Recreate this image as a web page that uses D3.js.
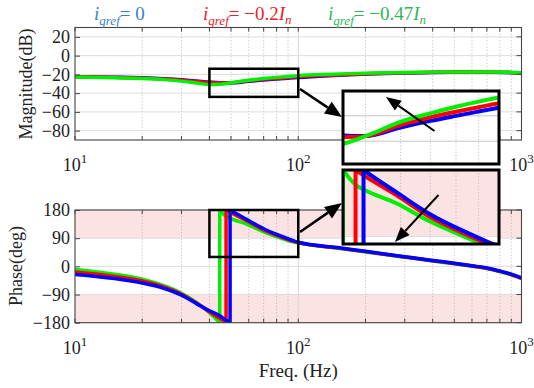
<!DOCTYPE html>
<html>
<head>
<meta charset="utf-8">
<script src="https://cdn.jsdelivr.net/npm/d3@7"></script>
<style>
  body { margin: 0; background: #fff; }
  svg { display: block; }
  svg text { font-family: "Liberation Serif", "Tinos", "Times New Roman", "DejaVu Serif", serif; }
</style>
</head>
<body>
<svg id="chart" width="534" height="388"></svg>
<script>
// ---------------- data ----------------
const seriesNames = ["i_qref = 0", "i_qref = -0.2In", "i_qref = -0.47In"];
const curveColors = ["#0000ff", "#ff0000", "#00ee00"];
const legendColors = ["#3b7fc8", "#e5242c", "#2fb55a"];
const serif = "Liberation Serif, Tinos, Times New Roman, DejaVu Serif, serif";

// magnitude (dB)
const magFreq  = [10, 15, 20, 25, 30, 35, 40, 44.5, 50, 60, 70, 80, 90, 100, 130, 170, 220, 300, 400, 550, 750, 1000];
const magBlue  = [-22.5, -23.0, -23.7, -24.6, -25.7, -27.0, -28.2, -28.9, -29.0, -27.3, -26.0, -25.0, -24.15, -23.4, -21.7, -20.4, -19.4, -18.5, -17.9, -17.6, -17.7, -18.4];
const magRed   = [-22.6, -23.2, -24.0, -25.0, -26.3, -27.7, -28.9, -29.2, -29.0, -26.8, -25.3, -24.2, -23.3, -22.5, -21.1, -20.0, -19.1, -18.3, -17.8, -17.5, -17.6, -18.3];
const magGreen = [-22.8, -23.5, -24.4, -25.6, -27.2, -29.2, -30.9, -30.5, -29.0, -26.2, -24.5, -23.2, -22.2, -21.4, -20.1, -19.2, -18.6, -18.0, -17.6, -17.4, -17.5, -18.2];

// phase (deg): branch before the wrap (ends at -180) and after it (starts at +180)
const phBlueLoF  = [10, 15, 20, 25, 30, 35, 40, 44.5, 47.5, 49.5];
const phBlueLoV  = [-26, -39, -53, -70, -92, -119, -142, -158, -172, -180];
const phRedLoF   = [10, 15, 20, 25, 30, 35, 40, 44.5, 47.5];
const phRedLoV   = [-18, -32, -47, -66, -89, -117, -145, -166, -180];
const phGreenLoF = [10, 15, 20, 25, 30, 35, 40, 42, 44.5];
const phGreenLoV = [-10, -25, -41, -62, -86, -115, -148, -162, -180];

const phBlueHiF  = [49.5, 52, 58.7, 69.6, 82.8, 92.6, 100, 150, 200, 300, 400, 500, 600, 700, 800, 900, 1000];
const phBlueHiV  = [180, 171, 150, 121, 98, 85, 77, 60, 48, 31, 19, 10, 2, -5, -15, -25, -37];
const phRedHiF   = [47.5, 52, 58.7, 69.6, 82.8, 92, 100, 150, 200, 300, 400, 500, 600, 700, 800, 900, 1000];
const phRedHiV   = [180, 165, 146, 117, 95, 83, 76, 59, 47, 30, 18, 9, 1, -6, -16, -26, -38];
const phGreenHiF = [44.5, 47.5, 49.4, 58.7, 69.6, 82.8, 88.5, 100, 150, 200, 300, 400, 500, 600, 700, 800, 900, 1000];
const phGreenHiV = [180, 160, 154, 135, 111, 91, 84, 75, 58, 46, 29, 17, 8, 0, -7, -17, -27, -39];

// axis ticks
const magTicks = [20, 0, -20, -40, -60, -80];
const phTicks = [180, 90, 0, -90, -180];
const decadeTicks = [10, 100, 1000];
const insetGridF = [50, 60, 70, 80, 90];

// ---------------- helpers ----------------
const zip = (f, v) => f.map((x, i) => [x, v[i]]);
const svg = d3.select("#chart");
const defs = svg.append("defs");

const L = 75, R = 521.5;
const magTop = 27.5, magBot = 140;
const phTop = 210, phBot = 322.7;
const tickFont = 18, titleFont = 18;

const x = d3.scaleLog().domain([10, 1000]).range([L, R]);
const yMag = d3.scaleLinear().domain([-90, 30]).range([magBot, magTop]);
const yPh = d3.scaleLinear().domain([-180, 180]).range([phBot, phTop]);

const minorF = [];
[10, 100].forEach(d => { for (let k = 2; k <= 9; k++) minorF.push(d * k); });

function clip(id, x0, y0, w, h) {
  defs.append("clipPath").attr("id", id)
    .append("rect").attr("x", x0).attr("y", y0).attr("width", w).attr("height", h);
  return `url(#${id})`;
}

function panel(y, ticks, top, bot, bands) {
  const g = svg.append("g");
  bands.forEach(b => {
    g.append("rect").attr("x", L).attr("width", R - L)
      .attr("y", y(b[1])).attr("height", y(b[0]) - y(b[1]))
      .attr("fill", "#fce3e3");
  });
  g.selectAll(".vmin").data(minorF).join("line")
    .attr("x1", d => x(d)).attr("x2", d => x(d)).attr("y1", top).attr("y2", bot)
    .attr("stroke", "#b4b4b4").attr("stroke-width", 0.8).attr("stroke-dasharray", "1.2,2");
  g.selectAll(".vmaj").data([100]).join("line")
    .attr("x1", d => x(d)).attr("x2", d => x(d)).attr("y1", top).attr("y2", bot)
    .attr("stroke", "#d6d6d6").attr("stroke-width", 1);
  g.selectAll(".hg").data(ticks).join("line")
    .attr("x1", L).attr("x2", R).attr("y1", d => y(d)).attr("y2", d => y(d))
    .attr("stroke", "#dcdcdc").attr("stroke-width", 1);
  return g;
}

function frame(y, ticks, top, bot) {
  const g = svg.append("g");
  const ax = g.append("g").attr("transform", `translate(${L},0)`)
    .call(d3.axisLeft(y).tickValues(ticks).tickSizeInner(-5).tickSizeOuter(0).tickPadding(5));
  ax.attr("font-family", serif).attr("font-size", tickFont);
  ax.select(".domain").remove();
  ax.selectAll("line").attr("stroke", "#444");
  ax.selectAll("text").attr("font-size", tickFont).attr("fill", "#222").attr("font-family", serif);
  g.selectAll(".rt").data(ticks).join("line")
    .attr("x1", R).attr("x2", R - 5).attr("y1", d => y(d)).attr("y2", d => y(d))
    .attr("stroke", "#444");
  const allX = minorF.concat(decadeTicks);
  g.selectAll(".bt").data(allX).join("line")
    .attr("x1", d => x(d)).attr("x2", d => x(d)).attr("y1", bot).attr("y2", bot - 4)
    .attr("stroke", "#444");
  g.selectAll(".tt").data(allX).join("line")
    .attr("x1", d => x(d)).attr("x2", d => x(d)).attr("y1", top).attr("y2", top + 4)
    .attr("stroke", "#444");
  g.append("rect").attr("x", L).attr("y", top).attr("width", R - L).attr("height", bot - top)
    .attr("fill", "none").attr("stroke", "#444").attr("stroke-width", 1.1);
  const lab = g.selectAll(".xl").data(decadeTicks).join("text")
    .attr("x", d => x(d)).attr("y", bot + 31).attr("text-anchor", "middle")
    .attr("font-family", serif).attr("font-size", tickFont).attr("fill", "#222");
  lab.append("tspan").text("10");
  lab.append("tspan").attr("dy", -8).attr("font-size", 13).text(d => Math.round(Math.log10(d)));
}

const lineGen = (xs, ys) => d3.line().x(d => xs(d[0])).y(d => ys(d[1])).curve(d3.curveMonotoneX);

function wrappedPath(xs, ys, lo, hi) {
  const gen = lineGen(xs, ys);
  return gen(lo) + gen(hi).replace(/^M/, "L");
}

// ---------------- magnitude panel ----------------
panel(yMag, magTicks, magTop, magBot, []);
const magClip = clip("cMag", L, magTop, R - L, magBot - magTop);
const magSeries = [magBlue, magRed, magGreen];
const gMag = svg.append("g").attr("clip-path", magClip);
magSeries.forEach((v, i) => {
  gMag.append("path").attr("d", lineGen(x, yMag)(zip(magFreq, v)))
    .attr("fill", "none").attr("stroke", curveColors[i]).attr("stroke-width", 3.5)
    .attr("stroke-linejoin", "round");
});
frame(yMag, magTicks, magTop, magBot);

// ---------------- phase panel ----------------
panel(yPh, phTicks, phTop, phBot, [[90, 180], [-180, -90]]);
const phClip = clip("cPh", L, phTop, R - L, phBot - phTop);
const phLo = [zip(phBlueLoF, phBlueLoV), zip(phRedLoF, phRedLoV), zip(phGreenLoF, phGreenLoV)];
const phHi = [zip(phBlueHiF, phBlueHiV), zip(phRedHiF, phRedHiV), zip(phGreenHiF, phGreenHiV)];
const gPh = svg.append("g").attr("clip-path", phClip);
[2, 1, 0].forEach(i => {
  gPh.append("path").attr("d", wrappedPath(x, yPh, phLo[i], phHi[i]))
    .attr("fill", "none").attr("stroke", curveColors[i]).attr("stroke-width", 3.5)
    .attr("stroke-linejoin", "miter");
});
frame(yPh, phTicks, phTop, phBot);

// ---------------- zoom boxes ----------------
const boxMag = { f: [40, 100], v: [-14, -44] };
const boxPh = { f: [40, 100], v: [30, 180] };
[[boxMag, yMag], [boxPh, yPh]].forEach(([b, y]) => {
  svg.append("rect")
    .attr("x", x(b.f[0])).attr("y", y(d3.max(b.v)))
    .attr("width", x(b.f[1]) - x(b.f[0])).attr("height", y(d3.min(b.v)) - y(d3.max(b.v)))
    .attr("fill", "none").attr("stroke", "#000").attr("stroke-width", 2.5);
});

// ---------------- insets ----------------
const IL = 343, IR = 499;
const xi = d3.scaleLog().domain([44.5, 100]).range([IL, IR]);

// magnitude inset
const iMagTop = 91, iMagBot = 164;
const yiMag = d3.scaleLinear().domain([-34.5, -20.1]).range([iMagBot, iMagTop]);
const gi1 = svg.append("g");
gi1.append("rect").attr("x", IL).attr("y", iMagTop).attr("width", IR - IL).attr("height", iMagBot - iMagTop)
  .attr("fill", "#fff");
gi1.selectAll(".ig").data(insetGridF).join("line")
  .attr("x1", d => xi(d)).attr("x2", d => xi(d)).attr("y1", iMagTop).attr("y2", iMagBot)
  .attr("stroke", "#b4b4b4").attr("stroke-width", 0.8).attr("stroke-dasharray", "1.2,2");
gi1.selectAll(".ih").data([-25, -30]).join("line")
  .attr("x1", IL).attr("x2", IR).attr("y1", d => yiMag(d)).attr("y2", d => yiMag(d))
  .attr("stroke", "#c4c4c4").attr("stroke-width", 1);
const ci1 = clip("cI1", IL, iMagTop, IR - IL, iMagBot - iMagTop);
const gi1c = gi1.append("g").attr("clip-path", ci1);
magSeries.forEach((v, i) => {
  gi1c.append("path").attr("d", lineGen(xi, yiMag)(zip(magFreq, v)))
    .attr("fill", "none").attr("stroke", curveColors[i]).attr("stroke-width", 4);
});
gi1.append("rect").attr("x", IL).attr("y", iMagTop).attr("width", IR - IL).attr("height", iMagBot - iMagTop)
  .attr("fill", "none").attr("stroke", "#000").attr("stroke-width", 3);

// phase inset
const iPhTop = 170, iPhBot = 244;
const yiPh = d3.scaleLinear().domain([80, 180]).range([iPhBot, iPhTop]);
const gi2 = svg.append("g");
gi2.append("rect").attr("x", IL).attr("y", iPhTop).attr("width", IR - IL).attr("height", iPhBot - iPhTop)
  .attr("fill", "#fff");
gi2.append("rect").attr("x", IL).attr("y", yiPh(180)).attr("width", IR - IL).attr("height", yiPh(90) - yiPh(180))
  .attr("fill", "#fce3e3");
gi2.selectAll(".ig").data(insetGridF).join("line")
  .attr("x1", d => xi(d)).attr("x2", d => xi(d)).attr("y1", iPhTop).attr("y2", iPhBot)
  .attr("stroke", "#b4b4b4").attr("stroke-width", 0.8).attr("stroke-dasharray", "1.2,2");
gi2.selectAll(".ih").data([90]).join("line")
  .attr("x1", IL).attr("x2", IR).attr("y1", d => yiPh(d)).attr("y2", d => yiPh(d))
  .attr("stroke", "#dcdcdc").attr("stroke-width", 1);
const ci2 = clip("cI2", IL, iPhTop, IR - IL, iPhBot - iPhTop);
const gi2c = gi2.append("g").attr("clip-path", ci2);
[2, 1, 0].forEach(i => {
  gi2c.append("path").attr("d", wrappedPath(xi, yiPh, phLo[i], phHi[i]))
    .attr("fill", "none").attr("stroke", curveColors[i]).attr("stroke-width", 4);
});
gi2.append("rect").attr("x", IL).attr("y", iPhTop).attr("width", IR - IL).attr("height", iPhBot - iPhTop)
  .attr("fill", "none").attr("stroke", "#000").attr("stroke-width", 3);

// ---------------- arrows ----------------
function arrow(x1, y1, x2, y2, len, wid, sw) {
  const a = Math.atan2(y2 - y1, x2 - x1);
  const bx = x2 - len * Math.cos(a), by = y2 - len * Math.sin(a);
  const px = -Math.sin(a) * wid / 2, py = Math.cos(a) * wid / 2;
  svg.append("line").attr("x1", x1).attr("y1", y1).attr("x2", bx).attr("y2", by)
    .attr("stroke", "#000").attr("stroke-width", sw);
  svg.append("path")
    .attr("d", `M${x2},${y2}L${bx + px},${by + py}L${bx - px},${by - py}Z`)
    .attr("fill", "#000");
}
arrow(300, 89, 342, 117, 17, 14, 2.6);
arrow(300, 232, 342, 203, 17, 14, 2.6);
arrow(434.5, 131, 386, 97, 15, 12, 2);
arrow(438.5, 195, 395, 242, 15, 12, 2);

// ---------------- axis titles ----------------
svg.append("text").attr("transform", "translate(32,84) rotate(-90)")
  .attr("text-anchor", "middle").attr("font-family", serif).attr("font-size", titleFont)
  .attr("fill", "#222").text("Magnitude(dB)");
svg.append("text").attr("transform", "translate(22,266) rotate(-90)")
  .attr("text-anchor", "middle").attr("font-family", serif).attr("font-size", titleFont)
  .attr("fill", "#222").text("Phase(deg)");
svg.append("text").attr("x", x(100)).attr("y", 377).attr("text-anchor", "middle")
  .attr("font-family", serif).attr("font-size", 19).attr("fill", "#222").text("Freq. (Hz)");

// ---------------- legend ----------------
const legendItems = [
  { x: 94, value: "0", unit: false },
  { x: 203, value: "\u22120.2", unit: true },
  { x: 328, value: "\u22120.47", unit: true }
];
legendItems.forEach((it, i) => {
  const t = svg.append("text").attr("x", it.x).attr("y", 20)
    .attr("font-family", serif).attr("font-size", 19).attr("fill", legendColors[i]);
  t.append("tspan").attr("font-style", "italic").text("i");
  t.append("tspan").attr("font-style", "italic").attr("font-size", 13).attr("dy", 5).text("qref");
  t.append("tspan").attr("dy", -5).text("= " + it.value);
  if (it.unit) {
    t.append("tspan").attr("font-style", "italic").text("I");
    t.append("tspan").attr("font-style", "italic").attr("font-size", 13).attr("dy", 4).text("n");
  }
});
</script>
</body>
</html>
